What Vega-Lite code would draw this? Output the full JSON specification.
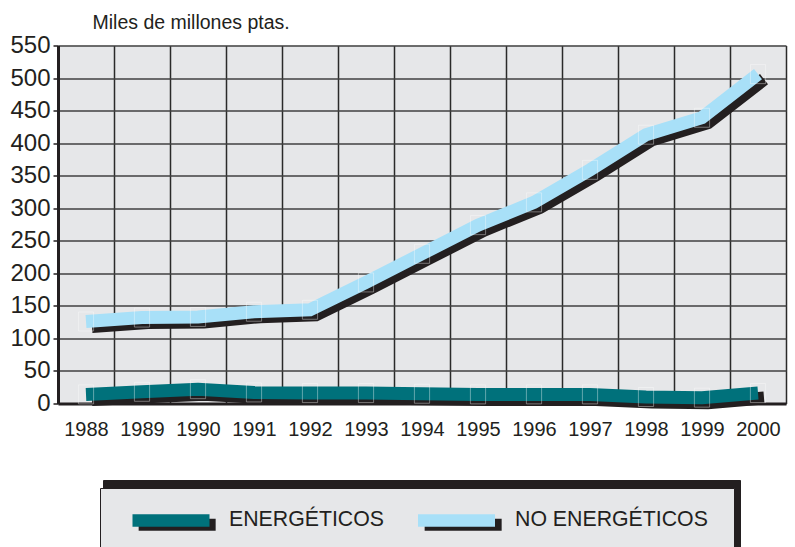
{
  "$schema": "https://vega.github.io/schema/vega-lite/v6.json",
  "width": 728,
  "height": 358,
  "autosize": {"type": "none"},
  "padding": {"left": 58, "top": 45.5, "right": 9, "bottom": 143.5},
  "background": "#ffffff",
  "config": {
    "font": "Liberation Sans",
    "view": {"fill": "#e6e7e9", "stroke": null}
  },
  "data": {
    "values": [
      {"year": 1988, "series": "NO ENERGÉTICOS", "value": 126},
      {"year": 1989, "series": "NO ENERGÉTICOS", "value": 132},
      {"year": 1990, "series": "NO ENERGÉTICOS", "value": 133},
      {"year": 1991, "series": "NO ENERGÉTICOS", "value": 141},
      {"year": 1992, "series": "NO ENERGÉTICOS", "value": 144},
      {"year": 1993, "series": "NO ENERGÉTICOS", "value": 186},
      {"year": 1994, "series": "NO ENERGÉTICOS", "value": 230},
      {"year": 1995, "series": "NO ENERGÉTICOS", "value": 274},
      {"year": 1996, "series": "NO ENERGÉTICOS", "value": 309},
      {"year": 1997, "series": "NO ENERGÉTICOS", "value": 359},
      {"year": 1998, "series": "NO ENERGÉTICOS", "value": 413},
      {"year": 1999, "series": "NO ENERGÉTICOS", "value": 439},
      {"year": 2000, "series": "NO ENERGÉTICOS", "value": 506},
      {"year": 1988, "series": "ENERGÉTICOS", "value": 14},
      {"year": 1989, "series": "ENERGÉTICOS", "value": 18},
      {"year": 1990, "series": "ENERGÉTICOS", "value": 22},
      {"year": 1991, "series": "ENERGÉTICOS", "value": 17},
      {"year": 1992, "series": "ENERGÉTICOS", "value": 16},
      {"year": 1993, "series": "ENERGÉTICOS", "value": 16},
      {"year": 1994, "series": "ENERGÉTICOS", "value": 15},
      {"year": 1995, "series": "ENERGÉTICOS", "value": 14},
      {"year": 1996, "series": "ENERGÉTICOS", "value": 14},
      {"year": 1997, "series": "ENERGÉTICOS", "value": 14},
      {"year": 1998, "series": "ENERGÉTICOS", "value": 10},
      {"year": 1999, "series": "ENERGÉTICOS", "value": 9},
      {"year": 2000, "series": "ENERGÉTICOS", "value": 16}
    ]
  },
  "encoding": {
    "x": {
      "field": "year", "type": "quantitative",
      "scale": {"domain": [1987.5, 2000.5], "nice": false, "zero": false},
      "axis": {
        "values": [1988.5, 1989.5, 1990.5, 1991.5, 1992.5, 1993.5, 1994.5, 1995.5, 1996.5, 1997.5, 1998.5, 1999.5, 2000.5],
        "labelExpr": "'' + floor(datum.value)",
        "labelOffset": -28, "labelFontSize": 20, "labelColor": "#231f20", "labelPadding": 16,
        "labelFlush": false, "labelOverlap": false, "labelBound": false,
        "ticks": false, "tickSize": 0,
        "domainColor": "#231f20", "domainWidth": 3,
        "grid": true, "gridColor": "#2a2a2a", "gridWidth": 1.5, "gridOpacity": 1,
        "title": null
      }
    },
    "y": {
      "field": "value", "type": "quantitative",
      "scale": {"domain": [0, 550], "nice": false},
      "axis": {
        "values": [0, 50, 100, 150, 200, 250, 300, 350, 400, 450, 500, 550],
        "tickCount": 12,
        "labelFontSize": 24, "labelColor": "#231f20", "labelPadding": 3,
        "labelFlush": false, "labelOverlap": false, "labelBound": false,
        "tickSize": 5, "tickColor": "#231f20", "tickWidth": 1.5,
        "domainColor": "#231f20", "domainWidth": 3,
        "grid": true, "gridColor": "#404040", "gridWidth": 1.5, "gridOpacity": 1,
        "title": "Miles de millones ptas.", "titleAngle": 0, "titleX": 34, "titleY": -17.5,
        "titleAlign": "left", "titleBaseline": "alphabetic", "titleFontSize": 19.5,
        "titleFontWeight": "normal", "titleColor": "#231f20", "titleFont": "Liberation Sans"
      }
    }
  },
  "layer": [
    {
      "mark": {"type": "line", "stroke": "#231f20", "strokeWidth": 13, "strokeCap": "butt", "strokeJoin": "miter", "xOffset": 6, "yOffset": 5},
      "encoding": {
        "opacity": {
          "field": "series", "type": "nominal",
          "scale": {"type": "ordinal", "range": [1, 1]},
          "legend": {
            "orient": "none", "legendX": 42, "legendY": 442.5, "zindex": 2,
            "direction": "horizontal", "columns": 2, "title": null,
            "fillColor": "#e6e7e9", "strokeColor": "#231f20",
            "padding": 26, "columnPadding": 27, "labelOffset": 13, "clipHeight": 12, "labelLimit": 400,
            "symbolType": "M-1,0M-0.84,0.13H1.16", "symbolSize": 5929, "symbolStrokeWidth": 13,
            "symbolStrokeColor": "#231f20", "symbolOpacity": 1,
            "labelFontSize": 21.3, "labelFont": "Liberation Sans", "labelColor": "#231f20"
          }
        }
      }
    },
    {
      "data": {"values": [{}]},
      "mark": {"type": "rect", "color": "#231f20", "xOffset": 8, "x2Offset": 9, "yOffset": -8.5, "y2Offset": 0},
      "encoding": {
        "x": {"datum": 1987.5, "type": "quantitative",
          "scale": {"domain": [1987.5, 2000.5], "nice": false, "zero": false},
          "axis": {
            "values": [1988.5, 1989.5, 1990.5, 1991.5, 1992.5, 1993.5, 1994.5, 1995.5, 1996.5, 1997.5, 1998.5, 1999.5, 2000.5],
            "labelExpr": "'' + floor(datum.value)",
            "labelOffset": -28, "labelFontSize": 20, "labelColor": "#231f20", "labelPadding": 16,
            "labelFlush": false, "labelOverlap": false, "labelBound": false,
            "ticks": false, "tickSize": 0,
            "domainColor": "#231f20", "domainWidth": 3,
            "grid": true, "gridColor": "#2a2a2a", "gridWidth": 1.5, "gridOpacity": 1,
            "title": null
          }
        },
        "x2": {"datum": 2000.5},
        "y": {"datum": 550, "type": "quantitative",
          "scale": {"domain": [0, 550], "nice": false},
          "axis": {
            "values": [0, 50, 100, 150, 200, 250, 300, 350, 400, 450, 500, 550],
            "tickCount": 12,
            "labelFontSize": 24, "labelColor": "#231f20", "labelPadding": 3,
            "labelFlush": false, "labelOverlap": false, "labelBound": false,
            "tickSize": 5, "tickColor": "#231f20", "tickWidth": 1.5,
            "domainColor": "#231f20", "domainWidth": 3,
            "grid": true, "gridColor": "#404040", "gridWidth": 1.5, "gridOpacity": 1,
            "title": "Miles de millones ptas.", "titleAngle": 0, "titleX": 34, "titleY": -17.5,
            "titleAlign": "left", "titleBaseline": "alphabetic", "titleFontSize": 19.5,
            "titleFontWeight": "normal", "titleColor": "#231f20", "titleFont": "Liberation Sans"
          }
        },
        "y2": {"datum": 550}
      }
    },
    {
      "data": {"values": [{}]},
      "mark": {"type": "rect", "color": "#231f20", "xOffset": 0, "x2Offset": 9, "yOffset": -8.5, "y2Offset": -10},
      "encoding": {
        "x": {"datum": 2000.5, "type": "quantitative",
          "scale": {"domain": [1987.5, 2000.5], "nice": false, "zero": false},
          "axis": {
            "values": [1988.5, 1989.5, 1990.5, 1991.5, 1992.5, 1993.5, 1994.5, 1995.5, 1996.5, 1997.5, 1998.5, 1999.5, 2000.5],
            "labelExpr": "'' + floor(datum.value)",
            "labelOffset": -28, "labelFontSize": 20, "labelColor": "#231f20", "labelPadding": 16,
            "labelFlush": false, "labelOverlap": false, "labelBound": false,
            "ticks": false, "tickSize": 0,
            "domainColor": "#231f20", "domainWidth": 3,
            "grid": true, "gridColor": "#2a2a2a", "gridWidth": 1.5, "gridOpacity": 1,
            "title": null
          }
        },
        "x2": {"datum": 2000.5},
        "y": {"datum": 550, "type": "quantitative",
          "scale": {"domain": [0, 550], "nice": false},
          "axis": {
            "values": [0, 50, 100, 150, 200, 250, 300, 350, 400, 450, 500, 550],
            "tickCount": 12,
            "labelFontSize": 24, "labelColor": "#231f20", "labelPadding": 3,
            "labelFlush": false, "labelOverlap": false, "labelBound": false,
            "tickSize": 5, "tickColor": "#231f20", "tickWidth": 1.5,
            "domainColor": "#231f20", "domainWidth": 3,
            "grid": true, "gridColor": "#404040", "gridWidth": 1.5, "gridOpacity": 1,
            "title": "Miles de millones ptas.", "titleAngle": 0, "titleX": 34, "titleY": -17.5,
            "titleAlign": "left", "titleBaseline": "alphabetic", "titleFontSize": 19.5,
            "titleFontWeight": "normal", "titleColor": "#231f20", "titleFont": "Liberation Sans"
          }
        },
        "y2": {"datum": 0}
      }
    },
    {
      "mark": {"type": "line", "strokeWidth": 13, "strokeCap": "butt", "strokeJoin": "miter"},
      "encoding": {
        "color": {
          "field": "series", "type": "nominal",
          "scale": {"domain": ["ENERGÉTICOS", "NO ENERGÉTICOS"], "range": ["#00717b", "#a8e0f8"]},
          "legend": {
            "orient": "none", "legendX": 42, "legendY": 442.5, "zindex": 3,
            "direction": "horizontal", "columns": 2, "title": null,
            "padding": 26, "columnPadding": 182.5, "labelOffset": 13, "clipHeight": 12,
            "labelExpr": "''",
            "symbolType": "M-1,0H1M1.16,0.13", "symbolSize": 5929, "symbolStrokeWidth": 13,
            "labelFontSize": 21.3, "labelFont": "Liberation Sans"
          }
        }
      }
    },
    {
      "mark": {"type": "point", "shape": "M-0.8,-1H0.8V1H-0.8Z", "filled": false, "stroke": "#ffffff", "strokeOpacity": 0.55, "strokeWidth": 1},
      "encoding": {
        "size": {
          "field": "series", "type": "nominal",
          "scale": {"type": "ordinal", "range": [361, 361], "domain": ["NO ENERGÉTICOS", "ENERGÉTICOS"]},
          "legend": {
            "orient": "none", "legendX": 45, "legendY": 434.5, "zindex": 1,
            "direction": "horizontal", "columns": 2, "title": null,
            "fillColor": "#231f20", "strokeColor": "#231f20",
            "padding": 26, "columnPadding": 520.5, "labelOffset": 0, "clipHeight": 12,
            "labelExpr": "''",
            "symbolType": "M-1,0M-0.84,0.13H1.16", "symbolStrokeWidth": 13,
            "symbolOpacity": 0,
            "labelFontSize": 21.3, "labelFont": "Liberation Sans"
          }
        }
      }
    }
  ]
}
